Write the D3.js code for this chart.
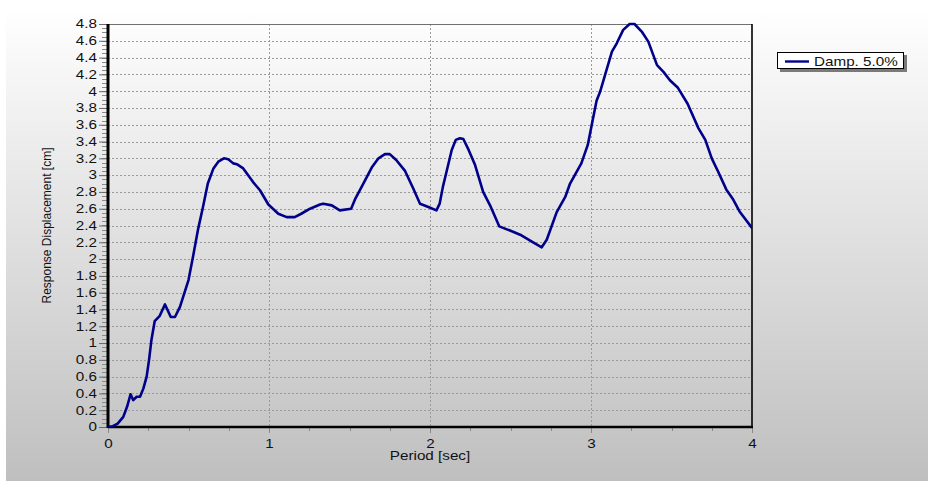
<!DOCTYPE html>
<html>
<head>
<meta charset="utf-8">
<script src="https://cdn.jsdelivr.net/npm/d3@7"></script>
<style>
  html, body { margin: 0; padding: 0; background: #ffffff; }
  svg { display: block; }
  text { font-family: "Liberation Sans", Arial, sans-serif; fill: #111; }
</style>
</head>
<body>
<svg id="chart" width="928" height="481"></svg>
<script>
// Response spectrum: period (sec) vs response displacement (cm), 5% damping
const periods = [0, 0.03, 0.06, 0.095, 0.12, 0.14, 0.157, 0.178, 0.199, 0.22, 0.24, 0.255, 0.27, 0.29, 0.32,
  0.354, 0.39, 0.416, 0.447, 0.50, 0.53, 0.56, 0.59, 0.62, 0.655, 0.685, 0.72, 0.747, 0.778, 0.80, 0.84,
  0.90, 0.944, 0.996, 1.058, 1.11, 1.16, 1.20, 1.255, 1.317, 1.337, 1.39, 1.44, 1.51, 1.534, 1.586, 1.638,
  1.68, 1.72, 1.75, 1.79, 1.845, 1.896, 1.938, 1.99, 2.04, 2.06, 2.08, 2.10, 2.135, 2.16, 2.186, 2.207,
  2.24, 2.28, 2.33, 2.373, 2.43, 2.497, 2.56, 2.63, 2.694, 2.725, 2.787, 2.84, 2.87, 2.94, 2.98, 3.01,
  3.035, 3.056, 3.087, 3.13, 3.16, 3.20, 3.24, 3.27, 3.315, 3.356, 3.41, 3.45, 3.49, 3.54, 3.60, 3.667,
  3.71, 3.75, 3.79, 3.84, 3.88, 3.925, 4.0];
const displacement = [0, 0.01, 0.04, 0.12, 0.25, 0.39, 0.32, 0.36, 0.36, 0.46, 0.60, 0.80, 1.04, 1.26, 1.32,
  1.46, 1.31, 1.31, 1.43, 1.75, 2.05, 2.36, 2.62, 2.90, 3.08, 3.16, 3.20, 3.19, 3.14, 3.13, 3.08,
  2.92, 2.82, 2.65, 2.54, 2.50, 2.50, 2.54, 2.60, 2.65, 2.66, 2.64, 2.58, 2.60, 2.71, 2.90, 3.09,
  3.20, 3.25, 3.25, 3.18, 3.05, 2.84, 2.66, 2.62, 2.58, 2.66, 2.86, 3.02, 3.30, 3.42, 3.44, 3.43,
  3.30, 3.12, 2.80, 2.64, 2.39, 2.34, 2.29, 2.21, 2.14, 2.23, 2.56, 2.74, 2.90, 3.14, 3.36, 3.65,
  3.89, 3.99, 4.19, 4.47, 4.57, 4.73, 4.80, 4.80, 4.71, 4.59, 4.31, 4.23, 4.13, 4.04, 3.85, 3.56,
  3.42, 3.20, 3.04, 2.83, 2.72, 2.56, 2.37];
const xTicks = [0, 1, 2, 3, 4];
const yTicks = d3.range(0, 4.81, 0.2).map(v => +v.toFixed(1));
const seriesName = "Damp. 5.0%";
const xTitle = "Period [sec]";
const yTitle = "Response Displacement [cm]";

const svg = d3.select("#chart");
const W = 928, H = 481;
const plot = { left: 108, top: 24, right: 752, bottom: 427 };
const stretch = 1.27; // horizontal widening of all lettering

const x = d3.scaleLinear().domain([0, 4]).range([plot.left, plot.right]);
const y = d3.scaleLinear().domain([0, 4.8]).range([plot.bottom, plot.top]);

// panel background gradient
const defs = svg.append("defs");
const grad = defs.append("linearGradient").attr("id", "panelGrad")
  .attr("x1", 0).attr("y1", 0).attr("x2", 0).attr("y2", 1);
grad.append("stop").attr("offset", "0%").attr("stop-color", "#ffffff");
grad.append("stop").attr("offset", "100%").attr("stop-color", "#bfbfbf");
defs.append("clipPath").attr("id", "plotClip").append("rect")
  .attr("x", plot.left).attr("y", plot.top - 2)
  .attr("width", plot.right - plot.left).attr("height", plot.bottom - plot.top + 2);

svg.append("rect").attr("x", 0).attr("y", 0).attr("width", W).attr("height", H).attr("fill", "#ffffff");
svg.append("rect").attr("x", 6).attr("y", 7).attr("width", W - 6).attr("height", H - 7)
  .attr("fill", "url(#panelGrad)");

// grid lines
const grid = svg.append("g").attr("stroke", "#9a9a9a").attr("stroke-width", 1).attr("stroke-dasharray", "2,2");
grid.selectAll("line.h").data(yTicks.filter(v => v > 0 && v < 4.8)).join("line")
  .attr("x1", plot.left).attr("x2", plot.right)
  .attr("y1", d => Math.round(y(d)) + 0.5).attr("y2", d => Math.round(y(d)) + 0.5);
grid.selectAll("line.v").data(xTicks.filter(v => v > 0 && v < 4)).join("line")
  .attr("y1", plot.top).attr("y2", plot.bottom)
  .attr("x1", d => Math.round(x(d)) + 0.5).attr("x2", d => Math.round(x(d)) + 0.5);

// minor ticks
const minorY = d3.range(0, 4.801, 0.05);
svg.append("g").selectAll("line").data(minorY).join("line")
  .attr("x1", plot.left - 6).attr("x2", plot.left)
  .attr("y1", d => Math.round(y(d)) + 0.5).attr("y2", d => Math.round(y(d)) + 0.5)
  .attr("stroke", "#8a8a8a").attr("stroke-width", 1);
const minorX = d3.range(0, 4.001, 0.25);
svg.append("g").selectAll("line").data(minorX).join("line")
  .attr("x1", d => Math.round(x(d)) + 0.5).attr("x2", d => Math.round(x(d)) + 0.5)
  .attr("y1", plot.bottom).attr("y2", plot.bottom + 4)
  .attr("stroke", "#8a8a8a").attr("stroke-width", 1);

// axes with major ticks
const yAxis = d3.axisLeft(y).tickValues(yTicks).tickSize(9).tickPadding(2).tickFormat(d3.format("~g"));
const gy = svg.append("g").attr("transform", `translate(${plot.left},0)`).call(yAxis);
gy.select(".domain").remove();
gy.selectAll(".tick line").attr("stroke", "#6a6a6a");
gy.selectAll(".tick text").attr("font-size", 12).attr("fill", "#111")
  .attr("font-family", "Liberation Sans, Arial, sans-serif")
  .each(function () {
    const t = d3.select(this);
    const xx = +t.attr("x");
    t.attr("x", null).attr("transform", `translate(${xx},0) scale(${stretch},1)`);
  });

const xAxis = d3.axisBottom(x).tickValues(xTicks).tickSize(6).tickPadding(6).tickFormat(d3.format("d"));
const gx = svg.append("g").attr("transform", `translate(0,${plot.bottom})`).call(xAxis);
gx.select(".domain").remove();
gx.selectAll(".tick line").attr("stroke", "#8a8a8a");
gx.selectAll(".tick text").attr("font-size", 12).attr("fill", "#111")
  .attr("font-family", "Liberation Sans, Arial, sans-serif")
  .each(function () {
    const t = d3.select(this);
    const yy = +t.attr("y");
    t.attr("y", null).attr("transform", `translate(0,${yy}) scale(${stretch},1)`);
  });

// frame: heavy left & bottom axis, light top, right edge
svg.append("line").attr("x1", plot.left).attr("x2", plot.right).attr("y1", plot.top + 0.5).attr("y2", plot.top + 0.5)
  .attr("stroke", "#707070").attr("stroke-width", 1.2);
svg.append("line").attr("x1", plot.right).attr("x2", plot.right).attr("y1", plot.top).attr("y2", plot.bottom)
  .attr("stroke", "#000").attr("stroke-width", 1.6);
svg.append("line").attr("x1", plot.left).attr("x2", plot.right + 1).attr("y1", plot.bottom).attr("y2", plot.bottom)
  .attr("stroke", "#000").attr("stroke-width", 2.4);
svg.append("line").attr("x1", plot.left).attr("x2", plot.left).attr("y1", plot.top).attr("y2", plot.bottom + 1)
  .attr("stroke", "#000").attr("stroke-width", 3);

// spectrum curve
const pts = periods.map((p, i) => [p, displacement[i]]);
const line = d3.line().x(d => x(d[0])).y(d => y(d[1])).curve(d3.curveLinear);
svg.append("path").datum(pts).attr("clip-path", "url(#plotClip)")
  .attr("d", line).attr("fill", "none").attr("stroke", "#00008b")
  .attr("stroke-width", 2.6).attr("stroke-linejoin", "round").attr("stroke-linecap", "round");

// axis titles
svg.append("text").attr("text-anchor", "middle").attr("font-size", 12)
  .attr("transform", `translate(${(plot.left + plot.right) / 2},460) scale(${stretch},1)`)
  .text(xTitle);
svg.append("text").attr("text-anchor", "middle").attr("font-size", 12)
  .attr("transform", `translate(51,${(plot.top + plot.bottom) / 2}) scale(1.05,1) rotate(-90)`)
  .text(yTitle);

// legend
const lg = svg.append("g").attr("transform", "translate(777,52)");
lg.append("rect").attr("x", 3).attr("y", 3).attr("width", 127).attr("height", 17).attr("fill", "#7a7a7a");
lg.append("rect").attr("x", 0.5).attr("y", 0.5).attr("width", 126).attr("height", 16)
  .attr("fill", "#ffffff").attr("stroke", "#000").attr("stroke-width", 1);
lg.append("line").attr("x1", 8).attr("x2", 32).attr("y1", 9.5).attr("y2", 9.5)
  .attr("stroke", "#00008b").attr("stroke-width", 2.4);
lg.append("text").attr("font-size", 12)
  .attr("transform", `translate(37,13.5) scale(${stretch},1)`)
  .text(seriesName);
</script>
</body>
</html>
